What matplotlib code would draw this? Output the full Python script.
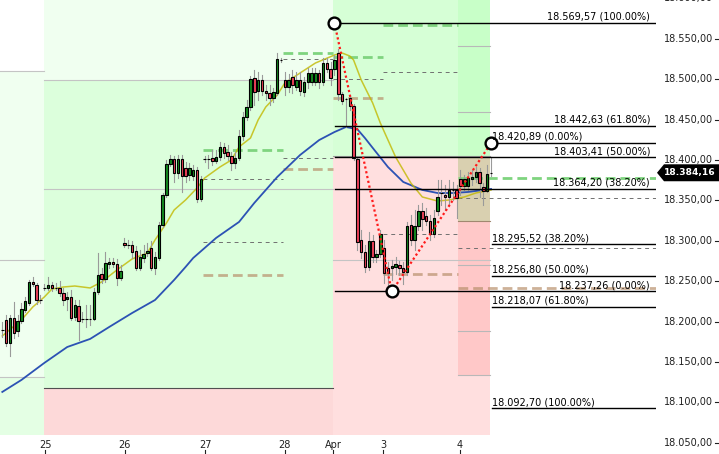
import matplotlib
matplotlib.use("Agg")
import matplotlib.pyplot as plt
from matplotlib.patches import Rectangle, Polygon
from matplotlib.transforms import blended_transform_factory

# hourly candles, index 0..128
opens = [18189.6, 18202.0, 18173.5, 18204.4, 18188.4, 18200.7, 18214.3, 18223.0, 18249.0, 18245.3,
         18226.7, 18241.6, 18241.6, 18245.3, 18241.6, 18241.6, 18235.4, 18228.0, 18230.4, 18205.7,
         18219.3, 18203.2, 18203.2, 18203.2, 18203.2, 18236.6, 18258.9, 18252.7, 18271.3, 18273.7,
         18271.3, 18253.9, 18297.3, 18294.8, 18294.8, 18287.4, 18266.3, 18278.7, 18284.9, 18291.1,
         18266.3, 18278.7, 18319.5, 18356.7, 18395.0, 18401.2, 18383.9, 18401.2, 18390.1, 18381.4,
         18380.2, 18387.6, 18351.7, 18401.2, 18401.2, 18402.5, 18398.7, 18403.7, 18416.1, 18409.9,
         18404.9, 18396.3, 18402.5, 18429.7, 18453.2, 18465.6, 18501.5, 18485.4, 18499.0, 18485.4,
         18482.9, 18476.7, 18482.9, 18523.7, 18499.0, 18490.3, 18502.7, 18490.3, 18499.0, 18484.1,
         18496.5, 18496.5, 18496.5, 18507.7, 18496.5, 18520.0, 18512.6, 18512.6, 18532.4, 18481.7,
         18475.5, 18476.7, 18466.8, 18401.2, 18301.0, 18286.1, 18267.6, 18299.7, 18279.9, 18283.7,
         18291.1, 18266.3, 18266.3, 18267.6, 18270.0, 18266.3, 18261.4, 18319.5, 18301.0, 18318.3,
         18336.9, 18330.7, 18324.5, 18308.4, 18336.9, 18359.1, 18356.7, 18354.2, 18362.9, 18362.9,
         18376.5, 18367.8, 18367.8, 18376.5, 18378.9, 18385.1, 18366.6, 18361.6, 18384.16]
highs = [18199.5, 18208.2, 18208.2, 18224.3, 18208.2, 18223.0, 18230.4, 18251.5, 18255.2, 18247.8,
         18232.9, 18246.5, 18255.2, 18249.0, 18247.8, 18250.2, 18241.6, 18236.6, 18239.1, 18226.7,
         18226.7, 18211.9, 18220.5, 18220.5, 18241.6, 18284.9, 18266.3, 18286.1, 18278.7, 18278.7,
         18277.5, 18270.0, 18303.5, 18301.0, 18299.7, 18293.6, 18288.6, 18294.8, 18297.3, 18299.7,
         18286.1, 18323.3, 18359.1, 18400.0, 18406.2, 18404.9, 18406.2, 18406.2, 18397.5, 18396.3,
         18393.8, 18391.3, 18380.2, 18404.9, 18406.2, 18412.4, 18412.4, 18422.3, 18421.0, 18418.5,
         18409.9, 18409.9, 18437.1, 18459.4, 18474.2, 18504.0, 18511.4, 18508.9, 18505.2, 18492.8,
         18492.8, 18489.1, 18532.4, 18526.2, 18508.9, 18506.4, 18511.4, 18508.9, 18508.9, 18502.7,
         18513.8, 18513.8, 18513.8, 18511.4, 18526.2, 18526.2, 18521.3, 18529.9, 18537.4, 18484.1,
         18476.7, 18480.4, 18469.3, 18402.5, 18313.4, 18294.8, 18310.9, 18307.2, 18288.6, 18313.4,
         18301.0, 18273.7, 18276.2, 18279.9, 18275.0, 18273.7, 18323.3, 18331.9, 18338.1, 18344.3,
         18346.8, 18340.6, 18331.9, 18338.1, 18375.2, 18375.2, 18369.0, 18375.2, 18372.8, 18369.0,
         18387.6, 18381.4, 18385.1, 18387.6, 18391.3, 18390.1, 18371.5, 18393.8, 18404.0]
lows = [18181.0, 18169.8, 18157.4, 18179.7, 18182.2, 18198.3, 18211.9, 18220.5, 18244.0, 18221.8,
        18223.0, 18239.1, 18239.1, 18237.9, 18239.1, 18231.7, 18220.5, 18214.3, 18202.0, 18202.0,
        18177.2, 18199.5, 18193.3, 18195.8, 18202.0, 18234.1, 18247.8, 18249.0, 18266.3, 18267.6,
        18245.3, 18251.5, 18292.3, 18291.1, 18278.7, 18263.8, 18263.8, 18273.7, 18281.2, 18263.8,
        18258.9, 18276.2, 18317.0, 18354.2, 18392.6, 18372.8, 18377.7, 18360.4, 18372.8, 18375.2,
        18375.2, 18348.0, 18349.2, 18397.5, 18390.1, 18394.2, 18396.3, 18400.0, 18402.5, 18400.0,
        18387.6, 18390.1, 18400.0, 18424.7, 18449.5, 18461.9, 18468.1, 18474.2, 18480.4, 18474.2,
        18468.1, 18471.8, 18480.4, 18521.3, 18480.4, 18484.1, 18482.9, 18486.6, 18480.4, 18479.2,
        18489.1, 18492.8, 18492.8, 18489.1, 18492.8, 18509.0, 18492.8, 18505.2, 18474.2, 18469.3,
        18440.8, 18461.9, 18400.0, 18288.6, 18278.7, 18261.4, 18263.8, 18273.7, 18273.7, 18279.9,
        18247.8, 18242.8, 18251.5, 18259.0, 18257.7, 18246.5, 18257.7, 18294.8, 18288.6, 18313.4,
        18313.4, 18319.5, 18301.0, 18304.7, 18331.9, 18344.3, 18338.1, 18344.3, 18350.5, 18328.2,
        18356.7, 18362.9, 18362.9, 18369.0, 18372.8, 18354.2, 18344.3, 18360.4, 18380.0]
closes = [18189.6, 18173.5, 18204.4, 18185.9, 18200.7, 18215.6, 18225.5, 18249.0, 18246.5, 18226.7,
          18226.7, 18241.6, 18245.3, 18241.6, 18241.6, 18235.4, 18226.7, 18230.4, 18204.4, 18220.5,
          18200.7, 18203.2, 18203.2, 18203.2, 18236.6, 18257.7, 18252.7, 18272.5, 18273.7, 18271.3,
          18253.9, 18262.6, 18294.8, 18294.8, 18286.1, 18266.3, 18279.9, 18283.7, 18287.4, 18266.3,
          18279.9, 18319.5, 18356.7, 18395.0, 18401.2, 18383.9, 18401.2, 18380.2, 18380.2, 18390.1,
          18387.6, 18351.7, 18376.5, 18401.2, 18401.2, 18398.7, 18403.7, 18416.1, 18408.6, 18404.9,
          18396.3, 18402.5, 18429.7, 18453.2, 18465.6, 18500.2, 18484.1, 18499.0, 18485.4, 18482.9,
          18476.7, 18484.1, 18525.0, 18523.7, 18490.3, 18499.0, 18492.8, 18499.0, 18485.4, 18496.5,
          18507.7, 18507.7, 18507.7, 18496.5, 18520.0, 18512.6, 18501.5, 18523.7, 18481.7, 18473.0,
          18475.5, 18466.8, 18402.5, 18298.5, 18286.1, 18267.6, 18299.7, 18279.9, 18283.7, 18308.4,
          18260.1, 18260.1, 18268.8, 18271.3, 18266.3, 18261.4, 18318.3, 18301.0, 18318.3, 18336.9,
          18327.0, 18324.5, 18308.4, 18328.2, 18354.2, 18359.1, 18354.2, 18362.9, 18362.9, 18352.9,
          18367.8, 18376.5, 18377.7, 18378.9, 18385.1, 18371.5, 18361.6, 18382.7, 18384.16]

# moving averages
fast_x = [0, 5, 8, 11, 13, 16, 19, 23, 26, 30, 34, 38, 40, 43, 45, 48, 51, 53, 57, 60, 62, 65,
          67, 69, 72, 74, 78, 82, 87, 89, 91, 92, 94, 97, 99, 103, 107, 110, 114, 117, 121, 124, 128]
fast_ma = [18182.2, 18202.0, 18218.1, 18230.4, 18240.3, 18242.8, 18244.0, 18241.6, 18249.0, 18263.8,
           18277.5, 18284.9, 18301.0, 18322.0, 18338.1, 18350.5, 18365.3, 18377.7, 18391.3, 18400.0,
           18416.1, 18427.2, 18449.5, 18465.6, 18480.4, 18495.3, 18507.7, 18520.0, 18529.9, 18532.4,
           18528.7, 18523.7, 18499.0, 18470.5, 18445.8, 18403.7, 18371.5, 18354.2, 18349.2, 18350.5,
           18354.2, 18359.1, 18362.9]
slow_x = [0, 5, 11, 17, 23, 28, 34, 40, 45, 48, 50, 56, 62, 66, 72, 78, 83, 87, 90, 93, 95, 97,
          101, 105, 110, 114, 118, 122, 128]
slow_ma = [18112.9, 18127.7, 18148.8, 18168.5, 18178.5, 18193.3, 18210.6, 18226.7, 18251.5, 18267.6,
           18278.7, 18303.5, 18323.3, 18346.8, 18378.9, 18406.2, 18424.7, 18434.6, 18440.8, 18438.0,
           18427.0, 18415.0, 18391.3, 18372.8, 18362.9, 18359.1, 18359.1, 18360.4, 18364.1]

day_ticks = [11.2, 32.1, 53.1, 74.0, 86.6, 99.7, 119.9]
day_labels = ["25", "26", "27", "28", "Apr", "3", "4"]
price_ticks = [18050, 18100, 18150, 18200, 18250, 18300, 18350, 18400, 18450, 18500, 18550, 18600]

# daily pivot lines: start, end, high (green), two mids (grey), low (brown)
piv_start = [52.6, 73.5, 86.6, 99.7, 119.4]
piv_end = [73.5, 86.6, 99.7, 119.4, 171.2]
piv_green = [18412.4, 18532.4, 18527.5, 18567.1, 18377.7]
piv_grey1 = [18376.5, 18525.0, 18500.2, 18508.9, 18352.9]
piv_grey2 = [18298.5, 18402.5, None, 18308.4, 18291.1]
piv_brown = [18257.7, 18388.8, 18476.7, 18258.9, 18241.6]

# zigzag swing points and fibonacci levels
swing_x = [87, 102, 128]
swing_p = [18569.57, 18237.26, 18420.89]
fib_a_levels = [18569.57, 18442.63, 18403.41, 18364.20, 18237.26]
fib_a_pcts = ["100.00%", "61.80%", "50.00%", "38.20%", "0.00%"]
fib_b_levels = [18420.89, 18295.52, 18256.80, 18218.07, 18092.70]
fib_b_pcts = ["0.00%", "38.20%", "50.00%", "61.80%", "100.00%"]
last_price = 18384.16


def fmt(p):
    s = f"{p:,.2f}"
    return s.replace(",", "X").replace(".", ",").replace("X", ".")


W, H = 719, 454
fig = plt.figure(figsize=(W / 100, H / 100), dpi=100)
ax = fig.add_axes([0, 19 / H, 656 / W, 435 / H])
ax.set_xlim(-0.6, 171.2)
ax.set_ylim(18059.6, 18598)
ax.axis("off")
plt.rcParams["font.family"] = "DejaVu Sans"
FS = 7

# background zones (x0, x1, low, high, colour)
zones = [
    (-1, 10.9, 18510.1, 18700, "#ffffff"),
    (-1, 10.9, 18131.4, 18510.1, "#f0fff0"),
    (-1, 10.9, 18000, 18131.4, "#e4ffe4"),
    (10.9, 86.6, 18499.0, 18700, "#f0fff0"),
    (10.9, 86.6, 18117.8, 18499.0, "#dcffdc"),
    (10.9, 86.6, 18000, 18117.8, "#fdd9d9"),
    (86.6, 119.4, 18404.9, 18700, "#d6ffd6"),
    (86.6, 119.4, 18000, 18404.9, "#ffdfdf"),
    (119.4, 127.7, 18404.9, 18700, "#c8ffc8"),
    (119.4, 127.7, 18324.5, 18404.9, "#d9d0b0"),
    (119.4, 127.7, 18133.9, 18324.5, "#ffc8c8"),
    (119.4, 127.7, 18000, 18133.9, "#ffdfdf"),
]
for x0, x1, lo, hi, col in zones:
    ax.add_patch(Rectangle((x0, lo), x1 - x0, hi - lo, fc=col, ec="none", zorder=0))

zone_lines = [
    (-1, 10.9, 18510.1, "#c4c4c4"), (-1, 10.9, 18276.2, "#c4c4c4"), (-1, 10.9, 18131.4, "#c4c4c4"),
    (10.9, 86.6, 18499.0, "#c4c4c4"), (10.9, 86.6, 18364.1, "#c4c4c4"), (10.9, 86.6, 18117.8, "#505050"),
    (86.6, 127.7, 18276.2, "#c4c4c4"), (86.6, 127.7, 18404.9, "#a0a0a0"),
    (119.4, 127.7, 18541.1, "#b8b8b8"), (119.4, 127.7, 18459.4, "#b8b8b8"),
    (119.4, 127.7, 18324.5, "#a08870"), (119.4, 127.7, 18270.0, "#b8b8b8"),
    (119.4, 127.7, 18188.4, "#b8b8b8"), (119.4, 127.7, 18133.9, "#b8b8b8"),
]
for x0, x1, p, col in zone_lines:
    ax.plot([x0, x1], [p, p], color=col, lw=0.8, zorder=1)

# daily pivot dashes
for i in range(len(piv_start)):
    xs = [piv_start[i], piv_end[i]]
    ax.plot(xs, [piv_green[i]] * 2, color="#7fd47f", lw=2.0, dashes=(3.5, 1.8), zorder=2)
    ax.plot(xs, [piv_brown[i]] * 2, color="#b8906c", alpha=0.7, lw=2.0, dashes=(3.5, 1.8), zorder=2)
    for g in (piv_grey1[i], piv_grey2[i]):
        if g is not None:
            ax.plot(xs, [g, g], color="#707070", lw=0.7, dashes=(4, 4), zorder=2)

# moving averages
ax.plot(slow_x, slow_ma, color="#2c52b4", lw=1.3, zorder=3)
ax.plot(fast_x, fast_ma, color="#c2b800", alpha=0.8, lw=1.1, zorder=3)

# candles
for i, (o, h, l, c) in enumerate(zip(opens, highs, lows, closes)):
    ax.plot([i, i], [l, h], color="#9a9a9a", lw=0.8, zorder=4)
    if c > o:
        col = "#128a1e"
    elif c < o:
        col = "#f04058"
    else:
        col = "black"
    ax.add_patch(Rectangle((i - 0.32, min(o, c)), 0.64, max(abs(c - o), 0.01),
                           fc=col, ec="black", lw=0.8, zorder=5))

# fibonacci lines
tr = blended_transform_factory(ax.transAxes, ax.transData)
for p, pct in zip(fib_a_levels, fib_a_pcts):
    ax.plot([87.1, 171.2], [p, p], color="black", lw=1.0, zorder=6)
    ax.text(650 / 656, p + 1.5, f"{fmt(p)} ({pct})", transform=tr, ha="right", va="bottom",
            fontsize=FS, zorder=9)
for p, pct in zip(fib_b_levels, fib_b_pcts):
    ax.plot([128.3, 171.2], [p, p], color="black", lw=1.0, zorder=6)
    ax.text(492 / 656, p + 1.5, f"{fmt(p)} ({pct})", transform=tr, ha="left", va="bottom",
            fontsize=FS, zorder=9)

# zigzag
ax.plot(swing_x, swing_p, color="#ff1a1a", lw=1.6, linestyle=(0, (1, 1.2)), zorder=7)
ax.plot(swing_x, swing_p, "o", ms=8.5, mfc="white", mec="black", mew=1.7, zorder=8, clip_on=False)

# right price axis
for p in price_ticks:
    ax.text(713 / 656, p, fmt(p), transform=tr, ha="right", va="center", fontsize=FS, color="#202020")
    ax.plot([715 / 656, 718 / 656], [p, p], transform=tr, color="#202020", lw=0.8, clip_on=False)

# day axis
trx = blended_transform_factory(ax.transData, ax.transAxes)
for x, lab in zip(day_ticks, day_labels):
    ax.text(x, -10 / 435, lab, transform=trx, ha="center", va="center", fontsize=FS, color="#202020")
    ax.plot([x, x], [-15 / 435, -19 / 435], transform=trx, color="#202020", lw=0.8, clip_on=False)

# last price tag
hh = 10.5
tag = Polygon([(657 / 656, last_price), (664 / 656, last_price + hh), (720 / 656, last_price + hh),
               (720 / 656, last_price - hh), (664 / 656, last_price - hh)],
              closed=True, transform=tr, fc="black", ec="none", clip_on=False, zorder=10)
ax.add_patch(tag)
ax.text(690 / 656, last_price, fmt(last_price), transform=tr, ha="center", va="center",
        fontsize=6.6, color="white", fontweight="bold", zorder=11)

fig.savefig("out.png", dpi=100)
